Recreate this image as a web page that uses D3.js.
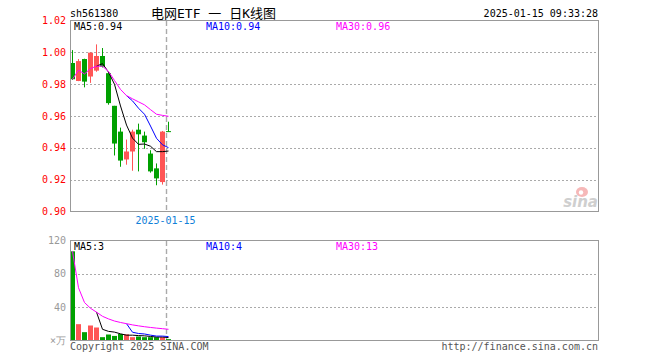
<!DOCTYPE html>
<html>
<head>
<meta charset="utf-8">
<script src="https://cdn.jsdelivr.net/npm/d3@7"></script>
<style>
  body { margin: 0; background: #fff; }
  text { font-family: "DejaVu Sans Mono", monospace; font-size: 10px; }
</style>
</head>
<body>
<div id="kline"></div>
<script>
// trading days shown on the chart
var dates = ["2024-12-23","2024-12-24","2024-12-25","2024-12-26","2024-12-27","2024-12-30","2024-12-31",
  "2025-01-02","2025-01-03","2025-01-06","2025-01-07","2025-01-08","2025-01-09","2025-01-10",
  "2025-01-13","2025-01-14","2025-01-15"];

var openP  = [0.9933,0.9820,0.9958,0.9848,0.9885,0.9977,0.9869,0.9664,0.9502,0.9327,0.9377,0.9514,0.9477,0.9364,0.9271,0.9185,0.9505];
var highP  = [1.0014,0.9958,0.9960,1.0000,1.0050,1.0027,0.9877,0.9664,0.9527,0.9452,0.9514,0.9552,0.9502,0.9385,0.9302,0.9506,0.9564];
var lowP   = [0.9827,0.9819,0.9780,0.9808,0.9878,0.9905,0.9671,0.9352,0.9281,0.9294,0.9256,0.9252,0.9394,0.9244,0.9165,0.9169,0.9502];
var closeP = [0.9831,0.9945,0.9816,0.9998,0.9977,0.9910,0.9681,0.9427,0.9320,0.9377,0.9502,0.9485,0.9435,0.9252,0.9208,0.9502,0.9502];

// moving average lines as drawn (null = not drawn)
var ma5  = [null,null,null,null,0.9913,0.9929,0.9876,0.9799,0.9663,0.9543,0.9461,0.9422,0.9424,0.9410,0.9376,0.9376,0.9380];
var ma10 = [null,null,null,null,null,null,null,null,null,0.9728,0.9695,0.9649,0.9611,0.9537,0.9460,0.9419,0.9401];
var ma30 = [0.9831,0.9888,0.9864,0.9898,0.9913,0.9913,0.9880,0.9823,0.9767,0.9728,0.9708,0.9689,0.9670,0.9640,0.9611,0.9604,0.9598];

// volume (10k) and its averages
var vol    = [107,19.6,10,18,15.6,4,7.2,5.5,7.8,7.4,4,4.8,4,4,4,4,1.6];
var vma5   = [null,null,null,null,34.04,13.44,10.96,10.06,8.02,6.38,6.38,5.9,5.6,4.84,4.16,4.16,3.52];
var vma10  = [null,null,null,null,null,null,null,null,null,20.21,9.91,8.43,7.83,6.43,5.27,5.27,4.71];
var vma30  = [107,63.3,45.53,38.65,34.04,29.03,25.91,23.36,21.63,20.21,18.74,17.58,16.53,15.64,14.86,14.18,13.44];

var priceTicks = [1.02,1.00,0.98,0.96,0.94,0.92,0.90];
var volTicks = [120,80,40];

var code = "sh561380",
    title = "电网ETF 一 日K线图",
    stamp = "2025-01-15 09:33:28",
    legendP = ["MA5:0.94","MA10:0.94","MA30:0.96"],
    legendV = ["MA5:3","MA10:4","MA30:13"],
    colors = ["#000000","#0000ff","#ff00ff"];

var W = 660, H = 360;
var left = 70, right = 598, slot = 6;

var svg = d3.select("#kline").append("svg")
    .attr("width", W).attr("height", H);

var x = d3.scaleBand()
    .domain(dates)
    .range([left, left + slot * dates.length]);

var y = d3.scaleLinear().domain([0.90, 1.02]).range([211.5, 20.5]);
var yv = d3.scaleLinear().domain([0, 120]).range([340.5, 240.5]);

var up = "#ff5555", down = "#00a000";
function isUp(i) { return closeP[i] >= openP[i]; }

// header
svg.append("text").attr("x", left).attr("y", 16.5).text(code);
svg.append("text").attr("x", 151).attr("y", 17.5)
    .attr("xml:space", "preserve")
    .style("font-family", "'DejaVu Sans Mono', 'Noto Sans CJK SC'").style("font-size", "13px")
    .text(title);
svg.append("text").attr("x", right).attr("y", 16.5).attr("text-anchor", "end").text(stamp);

// ---- price panel ----
var gp = svg.append("g");
gp.selectAll(".grid").data(priceTicks.slice(1, -1)).enter().append("line")
    .attr("x1", left).attr("x2", right)
    .attr("y1", function(d) { return Math.round(y(d)) + 0.5; })
    .attr("y2", function(d) { return Math.round(y(d)) + 0.5; })
    .attr("stroke", "#aaa").attr("stroke-dasharray", "2,2");

gp.selectAll(".plab").data(priceTicks).enter().append("text")
    .attr("x", 66).attr("y", function(d) { return y(d) + 3.5; })
    .attr("text-anchor", "end").attr("fill", "#ff0000")
    .text(function(d) { return d.toFixed(2); });

// sina watermark
var wm = gp.append("g").attr("transform", "translate(582,192)");
wm.append("ellipse").attr("rx", 6).attr("ry", 5).attr("fill", "#f6b8b8");
wm.append("circle").attr("r", 2.2).attr("cx", -1).attr("cy", 0.5).attr("fill", "#fff");
wm.append("text").attr("x", 16).attr("y", 15).attr("text-anchor", "end")
    .style("font-family", "'DejaVu Sans'").style("font-size", "15px")
    .style("font-style", "italic").style("font-weight", "bold")
    .attr("fill", "#cfcfcf").text("sina");

// today marker
var mx = x(dates[dates.length - 1]) + 0.5;
gp.append("line").attr("x1", mx).attr("x2", mx).attr("y1", 21).attr("y2", 211)
    .attr("stroke", "#aaa").attr("stroke-width", 1.4).attr("stroke-dasharray", "5,3");

// candles
var idx = d3.range(dates.length);
gp.selectAll(".wick").data(idx).enter().append("line")
    .attr("x1", function(i) { return x(dates[i]) + 2.5; })
    .attr("x2", function(i) { return x(dates[i]) + 2.5; })
    .attr("y1", function(i) { return y(highP[i]); })
    .attr("y2", function(i) { return y(lowP[i]); })
    .attr("stroke", function(i) { return isUp(i) ? up : down; });

gp.selectAll(".body").data(idx).enter().append("rect")
    .attr("x", function(i) { return x(dates[i]); })
    .attr("width", 5)
    .attr("y", function(i) { return y(Math.max(openP[i], closeP[i])); })
    .attr("height", function(i) { return Math.max(1, Math.abs(y(openP[i]) - y(closeP[i]))); })
    .attr("fill", function(i) { return isUp(i) ? up : down; });

var pline = d3.line()
    .defined(function(d) { return d[1] != null; })
    .x(function(d) { return x(dates[d[0]]) + 2.5; })
    .y(function(d) { return y(d[1]); });

[ma5, ma10, ma30].forEach(function(s, k) {
  gp.append("path").datum(s.map(function(v, i) { return [i, v]; }))
    .attr("d", pline).attr("fill", "none").attr("stroke", colors[k]).attr("stroke-width", 1);
});

gp.append("rect").attr("x", left + 0.5).attr("y", 20.5).attr("width", right - left).attr("height", 191)
    .attr("fill", "none").attr("stroke", "#999");

var legX = [74, 206, 336];
legendP.forEach(function(t, k) {
  gp.append("text").attr("x", legX[k]).attr("y", 30).attr("fill", colors[k]).text(t);
});

gp.append("text").attr("x", mx - 1).attr("y", 224).attr("text-anchor", "middle")
    .attr("fill", "#1180d8").text(dates[dates.length - 1]);

// ---- volume panel ----
var gv = svg.append("g");
gv.selectAll(".vgrid").data(volTicks.slice(1)).enter().append("line")
    .attr("x1", left).attr("x2", right)
    .attr("y1", function(d) { return Math.round(yv(d)) + 0.5; })
    .attr("y2", function(d) { return Math.round(yv(d)) + 0.5; })
    .attr("stroke", "#aaa").attr("stroke-dasharray", "2,2");

gv.selectAll(".vlab").data(volTicks).enter().append("text")
    .attr("x", 66).attr("y", function(d) { return yv(d) + 3.5; })
    .attr("text-anchor", "end").attr("fill", "#999")
    .text(function(d) { return d; });
gv.append("text").attr("x", 66).attr("y", 344).attr("text-anchor", "end")
    .attr("fill", "#999").text("×万");

gv.append("line").attr("x1", mx).attr("x2", mx).attr("y1", 241).attr("y2", 340)
    .attr("stroke", "#aaa").attr("stroke-width", 1.4).attr("stroke-dasharray", "5,3");

gv.selectAll(".vbar").data(idx).enter().append("rect")
    .attr("x", function(i) { return x(dates[i]); })
    .attr("width", 5)
    .attr("y", function(i) { return yv(vol[i]); })
    .attr("height", function(i) { return yv(0) - yv(vol[i]); })
    .attr("fill", function(i) { return isUp(i) ? up : down; });

var vline = d3.line()
    .defined(function(d) { return d[1] != null; })
    .x(function(d) { return x(dates[d[0]]) + 2.5; })
    .y(function(d) { return yv(d[1]); });

[vma5, vma10, vma30].forEach(function(s, k) {
  gv.append("path").datum(s.map(function(v, i) { return [i, v]; }))
    .attr("d", vline).attr("fill", "none").attr("stroke", colors[k]).attr("stroke-width", 1);
});

gv.append("rect").attr("x", left + 0.5).attr("y", 240.5).attr("width", right - left).attr("height", 100)
    .attr("fill", "none").attr("stroke", "#999");

legendV.forEach(function(t, k) {
  gv.append("text").attr("x", legX[k]).attr("y", 250).attr("fill", colors[k]).text(t);
});

// footer
svg.append("text").attr("x", left).attr("y", 350).attr("fill", "#555").text("Copyright 2025 SINA.COM");
svg.append("text").attr("x", right).attr("y", 350).attr("text-anchor", "end").attr("fill", "#555")
    .text("http://finance.sina.com.cn");
</script>
</body>
</html>
